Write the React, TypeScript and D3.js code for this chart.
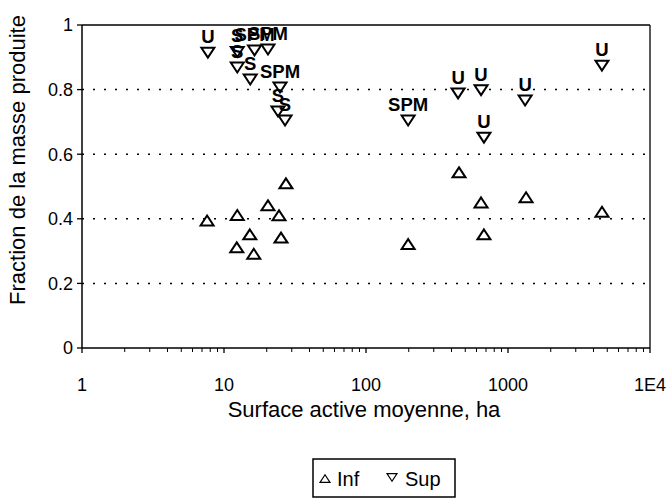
import React from "react";
import * as d3 from "d3";

const infX = [7.6, 12.4, 20.4, 27.3, 24.4, 15.2, 12.3, 16.2, 25.2, 452, 646, 1340, 4590, 677, 198];
const infY = [0.393, 0.41, 0.44, 0.508, 0.409, 0.35, 0.31, 0.29, 0.34, 0.542, 0.449, 0.465, 0.42, 0.35, 0.32];

const supX = [7.7, 12.4, 12.4, 16.4, 20.4, 15.3, 24.8, 24.0, 26.9, 198, 445, 646, 1320, 677, 4590];
const supY = [0.916, 0.918, 0.87, 0.923, 0.926, 0.833, 0.808, 0.734, 0.706, 0.706, 0.79, 0.8, 0.768, 0.653, 0.876];
const supLabels = ["U", "S", "S", "SPM", "SPM", "S", "SPM", "S", "S", "SPM", "U", "U", "U", "U", "U"];

const yTicks = [0, 0.2, 0.4, 0.6, 0.8, 1];
const xTicks = [1, 10, 100, 1000, 10000];
const xTickLabels = ["1", "10", "100", "1000", "1E4"];
const legendNames = ["Inf", "Sup"];

const W = 670, H = 503;
const L = 82, R = 650, T = 25, B = 348;
const font = "Liberation Sans, Arial, sans-serif";

function tri(cx: number, cy: number, up: boolean, s = 6.5) {
  const h = s * 0.85;
  return up
    ? `M${cx},${cy - h} L${cx + s},${cy + h * 0.8} L${cx - s},${cy + h * 0.8} Z`
    : `M${cx},${cy + h} L${cx + s},${cy - h * 0.8} L${cx - s},${cy - h * 0.8} Z`;
}

export default function App() {
  const x = d3.scaleLog().domain([1, 10000]).range([L, R]);
  const y = d3.scaleLinear().domain([0, 1]).range([B, T]);
  const minor: number[] = [];
  for (let d = 1; d < 10000; d *= 10) for (let k = 2; k <= 9; k++) minor.push(d * k);

  return (
    <svg width={W} height={H} style={{ position: "absolute", left: 0, top: 0, background: "#fff" }}>
      <rect width={W} height={H} fill="#fff" />
      {yTicks.filter((v) => v > 0 && v < 1).map((v) => (
        <line key={v} x1={L} x2={R} y1={y(v)} y2={y(v)} stroke="#000" strokeWidth={1.5} strokeDasharray="2,9" />
      ))}
      <line x1={L} x2={R} y1={T} y2={T} stroke="#000" strokeWidth={1.3} />
      <line x1={R} x2={R} y1={T} y2={B} stroke="#000" strokeWidth={1.3} />
      <line x1={L} x2={L} y1={T} y2={B} stroke="#000" strokeWidth={1.5} />
      <line x1={L} x2={R} y1={B} y2={B} stroke="#000" strokeWidth={1.5} />
      {yTicks.map((v) => (
        <g key={v}>
          <line x1={L - 5} x2={L} y1={y(v)} y2={y(v)} stroke="#000" strokeWidth={1.3} />
          <text x={L - 9} y={y(v)} dy="0.36em" textAnchor="end" fontFamily={font} fontSize={18}>{String(v)}</text>
        </g>
      ))}
      {minor.map((v) => (
        <line key={v} x1={x(v)} x2={x(v)} y1={B} y2={B + 4} stroke="#000" strokeWidth={1} />
      ))}
      {xTicks.map((v, i) => (
        <g key={v}>
          <line x1={x(v)} x2={x(v)} y1={B} y2={B + 5} stroke="#000" strokeWidth={1.3} />
          <text x={x(v)} y={B + 43} textAnchor="middle" fontFamily={font} fontSize={18}>{xTickLabels[i]}</text>
        </g>
      ))}
      <text x={(L + R) / 2 - 2} y={417} textAnchor="middle" fontFamily={font} fontSize={22}>Surface active moyenne, ha</text>
      <text transform={`translate(25,160) rotate(-90)`} textAnchor="middle" fontFamily={font} fontSize={22}>
        Fraction de la masse produite
      </text>
      {infX.map((v, i) => (
        <path key={"i" + i} d={tri(x(v), y(infY[i]), true)} fill="#fff" stroke="#000" strokeWidth={2} />
      ))}
      {supX.map((v, i) => (
        <path key={"s" + i} d={tri(x(v), y(supY[i]), false)} fill="#fff" stroke="#000" strokeWidth={2} />
      ))}
      {supX.map((v, i) => (
        <text key={"l" + i} x={x(v)} y={y(supY[i]) - 9} textAnchor="middle" fontFamily={font} fontSize={18.5} fontWeight="bold">
          {supLabels[i]}
        </text>
      ))}
      <g>
        <rect x={313} y={459} width={142} height={38} fill="#fff" stroke="#000" strokeWidth={1.5} />
        <path d={tri(325, 479, true, 5)} fill="#fff" stroke="#000" strokeWidth={1.2} />
        <text x={337} y={486} fontFamily={font} fontSize={20}>{legendNames[0]}</text>
        <path d={tri(392, 477, false, 5)} fill="#fff" stroke="#000" strokeWidth={1.2} />
        <text x={405} y={486} fontFamily={font} fontSize={20}>{legendNames[1]}</text>
      </g>
    </svg>
  );
}
